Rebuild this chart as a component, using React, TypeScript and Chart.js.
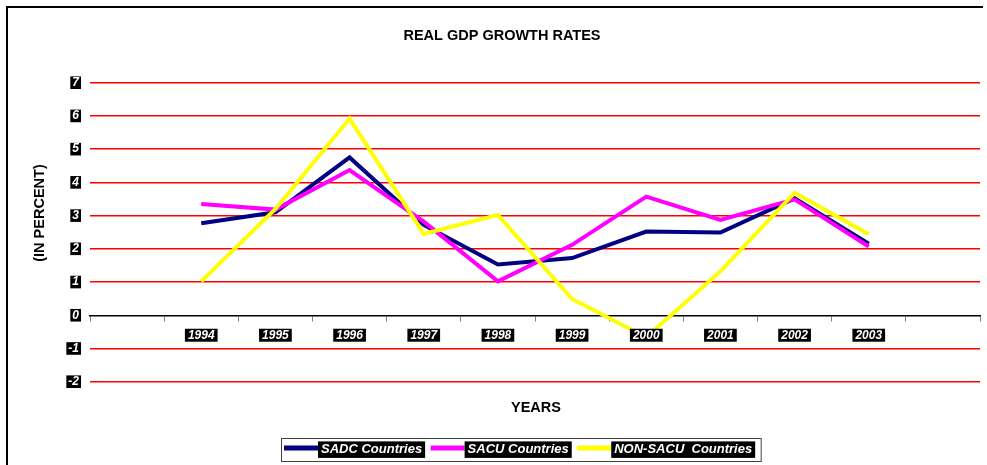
import React, { useEffect, useRef } from 'react';
import { Chart, registerables } from 'chart.js';

Chart.register(...registerables);

// ---- data ----
const categories = ['', '1994', '1995', '1996', '1997', '1998', '1999', '2000', '2001', '2002', '2003', ''];
const sadc = [null, 2.77, 3.1, 4.75, 2.72, 1.53, 1.72, 2.52, 2.49, 3.52, 2.15, null];
const sacu = [null, 3.35, 3.18, 4.37, 2.82, 1.02, 2.12, 3.57, 2.87, 3.49, 2.07, null];
const nonSacu = [null, 1.02, 3.2, 5.92, 2.45, 3.02, 0.49, -0.66, 1.32, 3.69, 2.44, null];
const seriesNames = ['SADC Countries', 'SACU Countries', 'NON-SACU  Countries'];
const seriesColors = ['#000080', '#FF00FF', '#FFFF00'];
const yMin = -2;
const yMax = 7;
const yStep = 1;
const chartTitle = 'REAL GDP GROWTH RATES';
const xTitle = 'YEARS';
const yTitle = '(IN PERCENT)';

const FONT = '"Liberation Sans", Arial, Helvetica, sans-serif';

const textPlugin = {
  id: 'customTexts',
  afterDraw(chart: any) {
    const ctx = chart.ctx as CanvasRenderingContext2D;
    ctx.save();
    ctx.fillStyle = '#000';
    ctx.textBaseline = 'middle';
    ctx.textAlign = 'center';
    ctx.font = `bold 14.5px ${FONT}`;
    ctx.fillText(chartTitle, 502, 36);
    ctx.fillText(xTitle, 536, 407.5);
    ctx.save();
    ctx.translate(39.5, 213);
    ctx.rotate(-Math.PI / 2);
    ctx.fillText(yTitle, 0, 0);
    ctx.restore();

    // legend
    const boxLeft = 281.5;
    const boxTop = 438.5;
    const boxH = 23;
    ctx.font = `italic bold 13px ${FONT}`;
    ctx.textAlign = 'left';
    let x = boxLeft + 2.5;
    chart.data.datasets.forEach((ds: any) => {
      ctx.strokeStyle = ds.borderColor;
      ctx.lineWidth = 5;
      ctx.beginPath();
      ctx.moveTo(x, 448);
      ctx.lineTo(x + 34, 448);
      ctx.stroke();
      const w = ctx.measureText(ds.label).width + 6;
      ctx.fillStyle = '#000';
      ctx.fillRect(x + 34, 441.4, w, 16.5);
      ctx.fillStyle = '#fff';
      ctx.fillText(ds.label, x + 37, 449.8);
      x = x + 34 + w + 5.5;
    });
    const boxRight = x - 5.5 + 6;
    ctx.strokeStyle = '#404040';
    ctx.lineWidth = 1;
    ctx.strokeRect(boxLeft, boxTop, boxRight - boxLeft, boxH);
    ctx.restore();
  },
};

export default function App() {
  const ref = useRef<HTMLCanvasElement | null>(null);

  useEffect(() => {
    if (!ref.current) return;
    const series = [sadc, sacu, nonSacu];
    const chart = new Chart(ref.current, {
      type: 'line',
      data: {
        labels: categories,
        datasets: series.map((d, i) => ({
          label: seriesNames[i],
          data: d,
          borderColor: seriesColors[i],
          backgroundColor: seriesColors[i],
          borderWidth: 4,
          pointRadius: 0,
          pointHoverRadius: 0,
          tension: 0,
          fill: false,
          order: 3 - i,
        })),
      },
      options: {
        animation: false,
        responsive: false,
        devicePixelRatio: 1,
        layout: { padding: { left: 0, right: 7, top: 82.7, bottom: 83.3 } },
        plugins: {
          legend: { display: false },
          title: { display: false },
          tooltip: { enabled: false },
        },
        scales: {
          x: {
            type: 'category',
            position: { y: 0 } as any,
            offset: true,
            grid: {
              display: true,
              drawOnChartArea: false,
              drawTicks: true,
              tickLength: 5,
              color: '#808080',
              tickColor: '#808080',
              offset: true,
            },
            border: { display: true, color: '#000', width: 1.5 },
            ticks: {
              z: 1,
              autoSkip: false,
              maxRotation: 0,
              minRotation: 0,
              color: '#fff',
              padding: 8.5,
              font: { family: FONT, size: 12, weight: 'bold', style: 'italic', lineHeight: 1.08 },
              showLabelBackdrop: true,
              backdropColor: (c: any) => (c.tick && c.tick.label ? '#000' : 'rgba(0,0,0,0)'),
              backdropPadding: { x: 3, y: 0 },
            } as any,
          },
          y: {
            type: 'linear',
            min: yMin,
            max: yMax,
            afterFit: (s: any) => {
              s.width = 90;
            },
            grid: {
              drawTicks: false,
              lineWidth: 1.5,
              color: (c: any) => (c.tick && c.tick.value === 0 ? 'rgba(0,0,0,0)' : '#FF0000'),
            },
            border: { display: false },
            ticks: {
              stepSize: yStep,
              color: '#fff',
              padding: 11,
              font: { family: FONT, size: 12, weight: 'bold', style: 'italic', lineHeight: 1.05 },
              showLabelBackdrop: true,
              backdropColor: '#000',
              backdropPadding: { x: 2, y: 0 },
            } as any,
          },
        },
      },
      plugins: [textPlugin],
    });
    return () => chart.destroy();
  }, []);

  return (
    <div style={{ position: 'fixed', left: 0, top: 0, width: 987, height: 465, background: '#fff', overflow: 'hidden' }}>
      <div
        style={{
          position: 'absolute',
          left: 6,
          top: 6,
          width: 977,
          height: 470,
          borderTop: '2px solid #000',
          borderLeft: '2px solid #000',
          boxSizing: 'border-box',
        }}
      />
      <canvas ref={ref} width={987} height={465} style={{ position: 'absolute', left: 0, top: 0, width: 987, height: 465 }} />
    </div>
  );
}
